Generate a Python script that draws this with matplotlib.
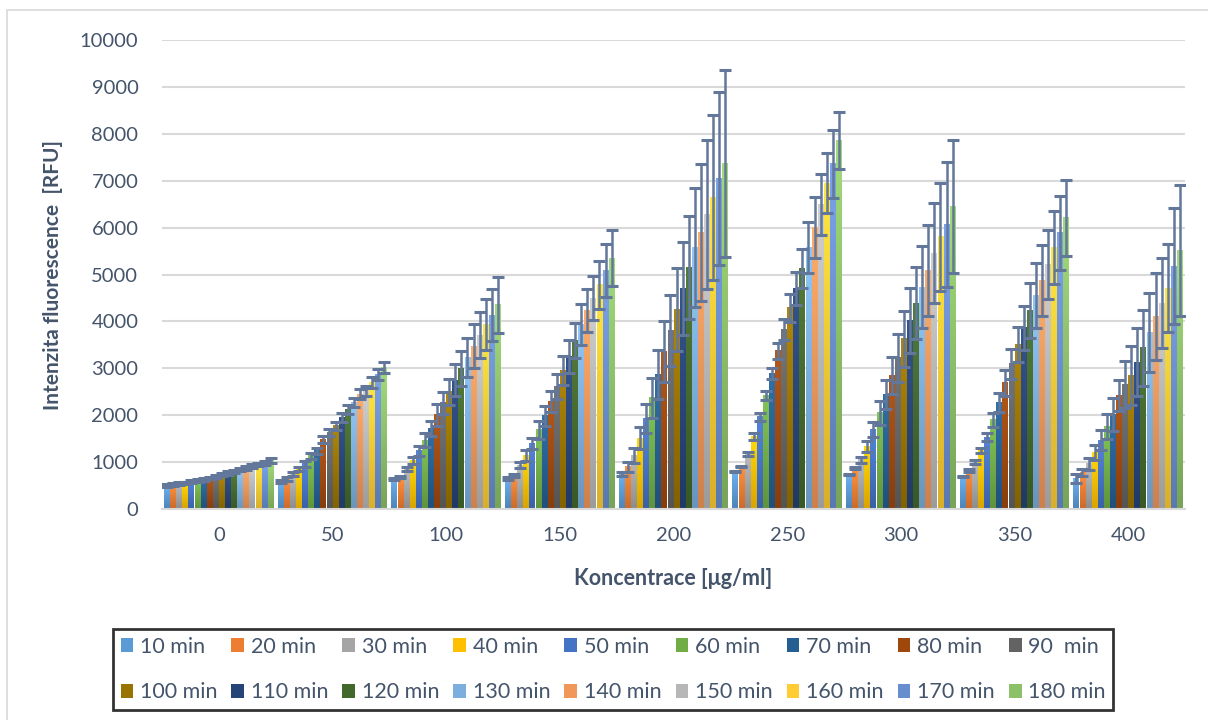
import numpy as np
import matplotlib
matplotlib.use("Agg")
from matplotlib import pyplot as plt
from matplotlib.colors import LinearSegmentedColormap, to_rgb
from matplotlib.patches import Rectangle

plt.rcParams['font.family'] = ['Lato', 'DejaVu Sans']

concentrations = ['0', '50', '100', '150', '200', '250', '300', '350', '400']
series_names = ['10 min', '20 min', '30 min', '40 min', '50 min', '60 min', '70 min', '80 min', '90  min',
                '100 min', '110 min', '120 min', '130 min', '140 min', '150 min', '160 min', '170 min', '180 min']
colors = ['#5B9BD5', '#ED7D31', '#A5A5A5', '#FFC000', '#4472C4', '#70AD47', '#255E91', '#9E480E', '#636363',
          '#997300', '#264478', '#43682B', '#7CAFDD', '#F1975A', '#B7B7B7', '#FFCD33', '#698ED0', '#8CC168']

# mean values per concentration (one value per time point)
vals_0 = [505, 525, 540, 555, 590, 610, 630, 660, 695, 730, 765, 800, 835, 870, 915, 950, 985, 1035]
vals_50 = [580, 640, 745, 850, 960, 1135, 1240, 1490, 1630, 1770, 1950, 2130, 2270, 2450, 2520, 2700, 2870, 3010]
vals_100 = [640, 675, 850, 1030, 1240, 1470, 1715, 2005, 2270, 2495, 2750, 2995, 3225, 3475, 3710, 3935, 4135, 4350]
vals_150 = [645, 715, 930, 1140, 1390, 1690, 1990, 2290, 2610, 2950, 3250, 3590, 3930, 4230, 4495, 4780, 5080, 5350]
vals_200 = [745, 900, 1150, 1510, 1935, 2375, 2870, 3350, 3810, 4255, 4700, 5155, 5580, 5900, 6275, 6645, 7045, 7370]
vals_250 = [800, 910, 1170, 1540, 1965, 2425, 2895, 3370, 3830, 4290, 4700, 5130, 5580, 5995, 6490, 6950, 7360, 7860]
vals_300 = [735, 870, 1045, 1330, 1695, 2050, 2440, 2845, 3220, 3625, 4020, 4390, 4730, 5085, 5455, 5800, 6065, 6450]
vals_350 = [690, 820, 995, 1245, 1530, 1900, 2275, 2690, 3095, 3505, 3860, 4230, 4550, 4870, 5215, 5570, 5890, 6210]
vals_400 = [660, 780, 960, 1210, 1470, 1755, 2015, 2420, 2655, 2845, 3130, 3435, 3770, 4105, 4390, 4710, 5180, 5510]

# error bar half-lengths
err_0 = [35, 30, 30, 30, 30, 30, 30, 30, 30, 30, 35, 35, 35, 40, 40, 40, 45, 50]
err_50 = [30, 40, 45, 50, 55, 60, 70, 75, 80, 85, 90, 95, 100, 100, 105, 110, 115, 120]
err_100 = [20, 20, 40, 70, 100, 140, 160, 235, 235, 280, 340, 380, 420, 460, 485, 540, 550, 590]
err_150 = [35, 35, 65, 110, 120, 190, 210, 230, 270, 310, 355, 380, 440, 460, 470, 505, 565, 600]
err_200 = [35, 105, 160, 230, 310, 425, 515, 650, 760, 890, 1000, 1100, 1275, 1465, 1585, 1755, 1850, 1990]
err_250 = [10, 15, 40, 78, 80, 100, 115, 170, 225, 300, 355, 420, 550, 650, 650, 630, 720, 600]
err_300 = [15, 25, 68, 115, 170, 255, 310, 390, 505, 605, 690, 765, 870, 960, 1060, 1155, 1330, 1425]
err_350 = [10, 35, 45, 45, 90, 145, 205, 275, 315, 380, 475, 585, 690, 755, 730, 780, 790, 810]
err_400 = [95, 70, 120, 160, 205, 270, 355, 320, 510, 620, 720, 805, 845, 920, 955, 930, 1235, 1400]

values = np.array([vals_0, vals_50, vals_100, vals_150, vals_200, vals_250, vals_300, vals_350, vals_400])
errors = np.array([err_0, err_50, err_100, err_150, err_200, err_250, err_300, err_350, err_400])

text_col = '#44546A'
grid_col = '#D9D9D9'
err_col = '#62779A'

fig = plt.figure(figsize=(12.08, 7.2), dpi=100)
ax = fig.add_axes([162 / 1208, 1 - 509 / 720, 1023 / 1208, 469 / 720])

n = len(series_names)
x = np.arange(len(concentrations))
group_w = 0.965
w = group_w / n

for i in range(n):
    xs = x - group_w / 2 + w * (i + 0.5)
    bars = ax.bar(xs, values[:, i], width=w * 0.96, color=colors[i], label=series_names[i], zorder=2)
    # soft vertical gradient like the office chart style
    base = np.array(to_rgb(colors[i]))
    cmap = LinearSegmentedColormap.from_list('g', [base * 0.85, np.minimum(base * 1.08 + 0.04, 1)])
    grad = np.linspace(0, 1, 64).reshape(-1, 1)
    for b in bars:
        ax.imshow(grad, extent=[b.get_x(), b.get_x() + b.get_width(), 0, b.get_height()],
                  origin='lower', aspect='auto', cmap=cmap, zorder=2.5, interpolation='bilinear')
    ax.errorbar(xs, values[:, i], yerr=errors[:, i], fmt='none', ecolor=err_col, elinewidth=1.8,
                capsize=4.5, capthick=2.2, zorder=3)

ax.set_xlim(-0.5, len(concentrations) - 0.5)
ax.set_ylim(0, 10000)
ax.set_yticks(np.arange(0, 10001, 1000))
ax.set_xticks(x)
ax.set_xticklabels(concentrations)
ax.yaxis.grid(True, color=grid_col, linewidth=1.5, zorder=0)
ax.set_axisbelow(True)
for s in ['top', 'right', 'left']:
    ax.spines[s].set_visible(False)
ax.spines['bottom'].set_color(grid_col)
ax.spines['bottom'].set_linewidth(1.5)
ax.tick_params(axis='both', length=0, labelsize=14.5, labelcolor=text_col)
ax.tick_params(axis='y', pad=17)
ax.tick_params(axis='x', pad=13)

ax.set_xlabel('Koncentrace [μg/ml]', fontsize=15.5, fontweight='bold', color=text_col, labelpad=17)
ax.set_ylabel('Intenzita fluorescence  [RFU]', fontsize=15, fontweight='bold', color=text_col, labelpad=12)

handles, labels = ax.get_legend_handles_labels()
# reorder so legend fills row by row (9 per row)
order = []
for c in range(9):
    order += [c, c + 9]
leg = fig.legend([handles[k] for k in order], [labels[k] for k in order], ncol=9, mode='expand',
                 loc='lower left', bbox_to_anchor=(113 / 1208, 10 / 720, 1000 / 1208, 87 / 720),
                 fontsize=15.5, frameon=True, fancybox=False, edgecolor='black', handlelength=0.6,
                 handleheight=0.6, handletextpad=0.3, labelspacing=1.2, borderaxespad=0, borderpad=0.35,
                 columnspacing=0.5)
leg.get_frame().set_linewidth(2)
for t in leg.get_texts():
    t.set_color(text_col)

fig.add_artist(Rectangle((7 / 1208, -0.1), 1.2, 1 - 10 / 720 + 0.1, transform=fig.transFigure,
                         fill=False, edgecolor=grid_col, linewidth=1.2))

fig.savefig('out.png', dpi=100)
